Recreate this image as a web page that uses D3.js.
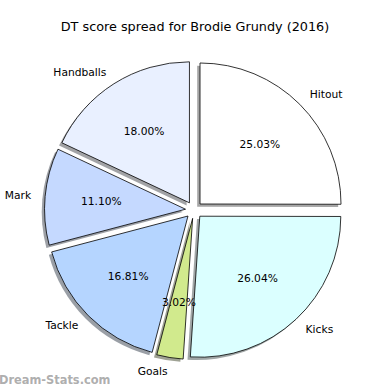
<!DOCTYPE html>
<html lang="en">
<head>
<meta charset="utf-8">
<title>DT score spread</title>
<script src="https://cdnjs.cloudflare.com/ajax/libs/d3/7.8.5/d3.min.js"></script>
<style>
  body { margin: 0; background: #fff; }
  text { font-family: "DejaVu Sans", sans-serif; }
</style>
</head>
<body>
<div id="chart"></div>
<script>
var categories = ["Hitout", "Kicks", "Goals", "Tackle", "Mark", "Handballs"];
var values = [25.03, 26.04, 3.02, 16.81, 11.10, 18.00];
var colors = ["#ffffff", "#dbffff", "#d1ea8d", "#b5d5ff", "#c5d9ff", "#e9f0ff"];

var width = 390, height = 390;
var cx = 194, cy = 210, radius = 141;
var explode = 8.5;

var svg = d3.select("#chart").append("svg")
    .attr("width", width)
    .attr("height", height);

svg.append("text")
    .attr("x", 195)
    .attr("y", 31)
    .attr("text-anchor", "middle")
    .attr("font-size", "12.8px")
    .text("DT score spread for Brodie Grundy (2016)");

var data = categories.map(function(c, i) { return {name: c, value: values[i], color: colors[i]}; });

var pie = d3.pie().sort(null).value(function(d) { return d.value; });
var arc = d3.arc().innerRadius(0).outerRadius(radius);
var arcs = pie(data);

function offset(d, dist) {
    var a = (d.startAngle + d.endAngle) / 2;
    return [Math.sin(a) * dist, -Math.cos(a) * dist];
}

var g = svg.append("g").attr("transform", "translate(" + cx + "," + cy + ")");

// shadows first
g.selectAll("path.shadow")
    .data(arcs)
    .enter().append("path")
    .attr("class", "shadow")
    .attr("d", arc)
    .attr("transform", function(d) {
        var o = offset(d, explode);
        return "translate(" + (o[0] - 2.8) + "," + (o[1] + 2.8) + ")";
    })
    .attr("fill", function(d) {
        var c = d3.rgb(d.data.color);
        return d3.rgb(c.r * 0.3, c.g * 0.3, c.b * 0.3);
    })
    .attr("fill-opacity", 0.5);

g.selectAll("path.slice")
    .data(arcs)
    .enter().append("path")
    .attr("class", "slice")
    .attr("d", arc)
    .attr("transform", function(d) {
        var o = offset(d, explode);
        return "translate(" + o[0] + "," + o[1] + ")";
    })
    .attr("fill", function(d) { return d.data.color; })
    .attr("stroke", "#000")
    .attr("stroke-width", 0.8)
    .attr("stroke-linejoin", "miter");

// percent labels
g.selectAll("text.pct")
    .data(arcs)
    .enter().append("text")
    .attr("class", "pct")
    .attr("x", function(d) { return offset(d, explode)[0] + offset(d, radius * 0.6)[0]; })
    .attr("y", function(d) { return offset(d, explode)[1] + offset(d, radius * 0.6)[1]; })
    .attr("dy", "0.35em")
    .attr("text-anchor", "middle")
    .attr("font-size", "10.7px")
    .text(function(d) { return d.data.value.toFixed(2) + "%"; });

// category labels
g.selectAll("text.lbl")
    .data(arcs)
    .enter().append("text")
    .attr("class", "lbl")
    .attr("x", function(d) { return offset(d, explode)[0] + offset(d, radius * 1.1)[0]; })
    .attr("y", function(d) { return offset(d, explode)[1] + offset(d, radius * 1.1)[1]; })
    .attr("dy", "0.35em")
    .attr("text-anchor", function(d) { return offset(d, 1)[0] > 0 ? "start" : "end"; })
    .attr("font-size", "10.7px")
    .text(function(d) { return d.data.name; });

svg.append("text")
    .attr("x", -1)
    .attr("y", 384)
    .attr("font-size", "11.4px")
    .attr("font-weight", "bold")
    .attr("fill", "#999")
    .attr("fill-opacity", 0.8)
    .text("Dream-Stats.com");
</script>
</body>
</html>
